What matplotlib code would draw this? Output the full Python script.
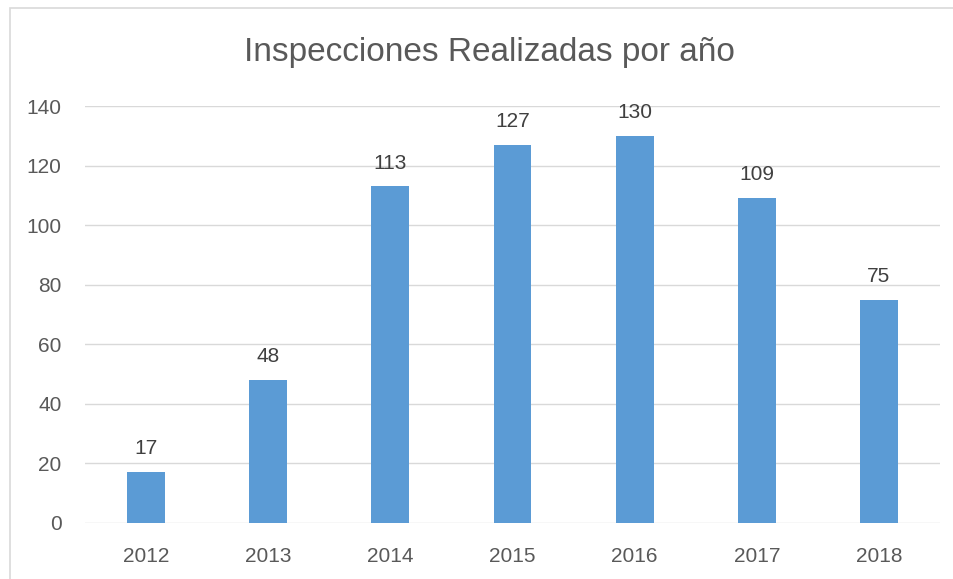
import numpy as np
import matplotlib.pyplot as plt
import matplotlib as mpl
from matplotlib.patches import Rectangle

mpl.rcParams['font.family'] = ['Liberation Sans', 'DejaVu Sans']

years = ['2012', '2013', '2014', '2015', '2016', '2017', '2018']
inspecciones = [17, 48, 113, 127, 130, 109, 75]

fig = plt.figure(figsize=(9.54, 5.79), dpi=100)
ax = fig.add_axes([85/954, 1-523/579, 855/954, (523-106)/579])

x = np.arange(len(years))
bars = ax.bar(x, inspecciones, width=0.31, color='#5b9bd5', zorder=3)
for xi, v in zip(x, inspecciones):
    ax.annotate(str(v), (xi, v), xytext=(0, 10), textcoords='offset points',
                ha='center', va='bottom', fontsize=15, color='#404040')

ax.set_xlim(-0.5, len(years) - 0.5)
ax.set_ylim(0, 140)
ax.set_yticks(range(0, 141, 20))
ax.set_xticks(x)
ax.set_xticklabels(years)
ax.yaxis.grid(True, color='#d9d9d9', linewidth=1, zorder=0)
for s in ax.spines.values():
    s.set_visible(False)
ax.tick_params(length=0, labelsize=15, colors='#595959')
ax.tick_params(axis='y', pad=17)
ax.tick_params(axis='x', pad=17)

fig.text(489/954, 1-52/579, 'Inspecciones Realizadas por año', ha='center', va='center',
         fontsize=24, color='#595959')

# chart border
fig.patches.append(Rectangle((10/954, -0.1), 1.0, 1.1 - 8/579, transform=fig.transFigure,
                             fill=False, edgecolor='#d9d9d9', linewidth=1.2))

plt.savefig('out.png', dpi=100)
